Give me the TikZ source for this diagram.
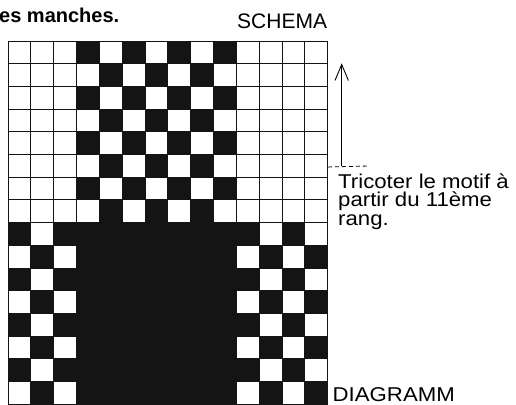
\documentclass[tikz,border=0pt]{standalone}
\usepackage{fontspec}
\setmainfont{Liberation Sans}
\newfontfamily\notefont{Liberation Sans}[FakeStretch=1.11]
\usepackage{tikz}
\usetikzlibrary{positioning, arrows.meta}

\begin{document}
\begin{tikzpicture}[
        x=1pt, y=-1pt,
        cell/.style={fill=black!92},
        gridline/.style={draw=black!92, line width=0.9pt},
        note/.style={inner sep=0pt, anchor=base west, font=\notefont\fontsize{20}{20}\selectfont},
        title/.style={inner sep=0pt, anchor=base west, font=\bfseries\fontsize{20}{20}\selectfont},
        arrow/.style={-{Straight Barb[length=16pt, width=13.4pt]}, line width=0.9pt},
        mark line/.style={dashed, dash pattern=on 4pt off 3pt, line width=0.8pt}
      ]
        \path[use as bounding box] (0,0) rectangle (516,404);

        % knitting chart: 14 stitches x 16 rows
        \begin{scope}[shift={(8,41)}, x=22.84pt, y=-22.7pt]
          \foreach \r in {0,2,4,6}
            \foreach \c in {3,5,7,9}
              \fill[cell] (\c,\r) rectangle ++(1,1);
          \foreach \r in {1,3,5,7}
            \foreach \c in {4,6,8}
              \fill[cell] (\c,\r) rectangle ++(1,1);
          \foreach \r in {8,10,12,14}
            \foreach \c in {0,2,3,4,5,6,7,8,9,10,12}
              \fill[cell] (\c,\r) rectangle ++(1,1);
          \foreach \r in {9,11,13,15}
            \foreach \c in {1,3,4,5,6,7,8,9,11,13}
              \fill[cell] (\c,\r) rectangle ++(1,1);
          \foreach \c in {0,...,14}
            \draw[gridline] (\c,0) -- (\c,16);
          \foreach \r in {0,...,16}
            \draw[gridline] (0,\r) -- (14,\r);
          \coordinate (chartright) at (14,5.55);
        \end{scope}

        \node[title] (heading) at (-1,23) {es manches.};
        \node[note, font=\fontsize{21}{21}\selectfont] (schema) at (237,28.3) {SCHEMA};

        \coordinate (markend) at (369,166);
        \coordinate (arrowfoot) at (341.7,166);
        \coordinate (arrowtip) at (341.7,63.3);
        \draw[mark line] (chartright) -- (markend);
        \draw[arrow] (arrowfoot) -- (arrowtip);

        \node[note] (motif1) at (338,188) {Tricoter le motif à};
        \node[note] (motif2) at ([yshift=-18.5pt]motif1.base west) {partir du 11ème};
        \node[note] (motif3) at ([yshift=-18.5pt]motif2.base west) {rang.};

        \node[note] (diagramm) at (332.5,401) {DIAGRAMM};
      \end{tikzpicture}
\end{document}
